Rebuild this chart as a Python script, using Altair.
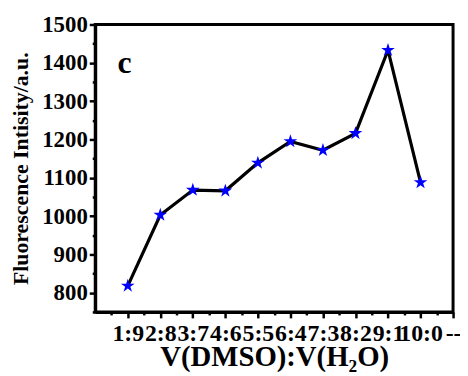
import json
import altair as alt
import pandas as pd

ratios = ["1:9", "2:8", "3:7", "4:6", "5:5", "6:4", "7:3", "8:2", "9:1", "10:0"]
intensity = [818, 1003, 1068, 1066, 1139, 1195, 1172, 1216, 1433, 1088]
tick_labels = ratios + ["--"]
y_major = list(range(800, 1501, 100))
y_minor = list(range(750, 1501, 100))
x_major = list(range(1, 12))
x_minor = [i + 0.5 for i in range(0, 11)]

df = pd.DataFrame({"pos": list(range(1, len(ratios) + 1)), "ratio": ratios, "val": intensity})

FONT = "Liberation Serif"
label_arr = json.dumps(tick_labels)
STAR = ("M0,-1L0.2245,-0.309L0.951,-0.309L0.363,0.118L0.588,0.809L0,0.382"
        "L-0.588,0.809L-0.363,0.118L-0.951,-0.309L-0.2245,-0.309Z")

common = dict(labelOverlap=False, labelFont=FONT, labelFontWeight="bold", labelColor="black",
              labelFlush=False, tickColor="black", tickWidth=2.5, domainWidth=3,
              domainColor="black", grid=False)

x_axis = alt.Axis(
    orient="bottom", values=x_major,
    labelExpr=f"{label_arr}[datum.value - 1]",
    labelFontSize=24, labelPadding=4, tickSize=6,
    title="V(DMSO):V(H₂O)", titleFontSize=29, titleFont=FONT, titleFontWeight="bold",
    titleColor="black", titlePadding=-3, **common,
)
y_axis = alt.Axis(
    orient="left", values=y_major, format="d",
    labelFontSize=23, labelPadding=2, tickSize=6,
    title="Fluorescence Intisity/a.u.", titleFontSize=22, titleFont=FONT, titleFontWeight="bold",
    titleColor="black", titlePadding=9, **common,
)
x_minor_axis = alt.Axis(orient="bottom", values=x_minor, labels=False, title=None, domain=False,
                        tickSize=3, tickWidth=2.5, tickColor="black", grid=False)
y_minor_axis = alt.Axis(orient="left", values=y_minor, labels=False, title=None, domain=False,
                        tickSize=3, tickWidth=2.5, tickColor="black", grid=False)

xs = alt.Scale(domain=[0, 11], nice=False, zero=False)
ys = alt.Scale(domain=[750, 1500], nice=False, zero=False)

base = alt.Chart(df).encode(
    x=alt.X("pos:Q", scale=xs, axis=x_axis),
    y=alt.Y("val:Q", scale=ys, axis=y_axis),
)
line = base.mark_line(color="black", strokeWidth=3.2)
pts = base.mark_point(shape=STAR, filled=True, color="#0000ff", size=210, opacity=1)

minor = alt.Chart(df).mark_point(opacity=0).encode(
    x=alt.X("pos:Q", scale=xs, axis=x_minor_axis),
    y=alt.Y("val:Q", scale=ys, axis=y_minor_axis),
)

lab = alt.Chart(pd.DataFrame({"t": ["c"], "pos": [0.9], "val": [1400]})).mark_text(
    font=FONT, fontWeight="bold", fontSize=32, color="black", baseline="middle", align="center"
).encode(
    x=alt.X("pos:Q", scale=xs, axis=x_axis),
    y=alt.Y("val:Q", scale=ys, axis=y_axis),
    text="t:N",
)

main = alt.layer(line, pts, lab)

chart = alt.layer(main, minor).resolve_axis(x="independent", y="independent").properties(
    width=361, height=290,
    autosize=alt.AutoSizeParams(type="none"),
    padding={"left": 88, "top": 15, "right": 7, "bottom": 63},
).configure_view(stroke="black", strokeWidth=3)

chart.save("out.html", embed_options={"renderer": "svg", "actions": False})
